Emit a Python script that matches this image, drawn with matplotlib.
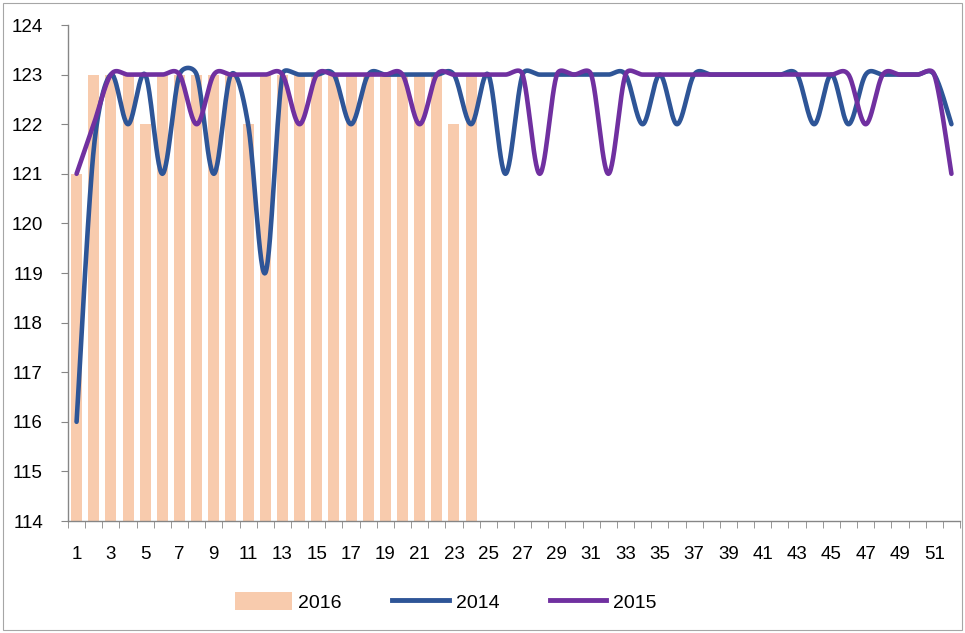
import numpy as np
import matplotlib
matplotlib.use("Agg")
import matplotlib.pyplot as plt
from matplotlib.patches import Patch, Rectangle
from matplotlib.lines import Line2D

plt.rcParams['font.family'] = ['Liberation Sans', 'DejaVu Sans']

weeks = list(range(1, 53))
s2016 = [121, 123, 123, 123, 122, 123, 123, 123, 123, 123, 122, 123,
         123, 123, 123, 123, 123, 123, 123, 123, 123, 123, 122, 123]
s2014 = [116, 121.5, 123, 122, 123, 121, 123, 123, 121, 123, 122, 119,
         123, 123, 123, 123, 122, 123, 123, 123, 123, 123, 123, 122,
         123, 121, 123, 123, 123, 123, 123, 123, 123, 122, 123, 122,
         123, 123, 123, 123, 123, 123, 123, 122, 123, 122, 123, 123,
         123, 123, 123, 122]
s2015 = [121, 122, 123, 123, 123, 123, 123, 122, 123, 123, 123, 123,
         123, 122, 123, 123, 123, 123, 123, 123, 122, 123, 123, 123,
         123, 123, 123, 121, 123, 123, 123, 121, 123, 123, 123, 123,
         123, 123, 123, 123, 123, 123, 123, 123, 123, 123, 122, 123,
         123, 123, 123, 121]
yticks = list(range(114, 125))
xlabels = [str(w) if w % 2 == 1 else "" for w in weeks]

# pixel scale (per category / per unit) used for Excel-like smoothing
SX, SY = 17.15, 49.6


def smooth(xs, ys, n=30, f=0.55):
    P = np.column_stack([np.asarray(xs, float) * SX, np.asarray(ys, float) * SY])
    m = len(P)
    T = np.zeros_like(P)
    for i in range(m):
        a = P[max(i - 1, 0)]
        b = P[min(i + 1, m - 1)]
        T[i] = (b - a) / 6.0
    t = np.linspace(0, 1, n)[:, None]
    out = []
    for i in range(m - 1):
        p0, p3 = P[i], P[i + 1]
        L = np.linalg.norm(p3 - p0)
        t0, t1 = T[i], T[i + 1]
        n0, n1 = np.linalg.norm(t0), np.linalg.norm(t1)
        if n0 > f * L:
            t0 = t0 * f * L / n0
        if n1 > f * L:
            t1 = t1 * f * L / n1
        c1 = p0 + t0
        c2 = p3 - t1
        seg = ((1 - t) ** 3) * p0 + 3 * ((1 - t) ** 2) * t * c1 + 3 * (1 - t) * t ** 2 * c2 + t ** 3 * p3
        out.append(seg)
    out = np.vstack(out)
    return out[:, 0] / SX, out[:, 1] / SY


c_bar = '#F8CBAD'
c_2014 = '#2E5597'
c_2015 = '#7030A0'
axis_c = '#868686'

fig = plt.figure(figsize=(9.65, 6.33), dpi=100)
ax = fig.add_axes([68 / 965, 1 - 521 / 633, (960 - 68) / 965, (521 - 25) / 633])

ax.bar(weeks[:len(s2016)], s2016, width=0.64, color=c_bar, zorder=1, bottom=0)
x14, y14 = smooth(weeks, s2014)
x15, y15 = smooth(weeks, s2015)
ax.plot(x14, y14, color=c_2014, lw=3.3, zorder=3, solid_capstyle='round')
ax.plot(x15, y15, color=c_2015, lw=3.3, zorder=4, solid_capstyle='round')

ax.set_ylim(114, 124)
ax.set_xlim(0.5, 52.5)
ax.set_yticks(yticks)
ax.set_yticklabels([str(v) for v in yticks])
ax.set_xticks(weeks)
ax.set_xticklabels(xlabels)
ax.set_xticks(np.arange(0.5, 53, 1.0), minor=True)
ax.tick_params(axis='x', which='major', length=0, pad=18, labelsize=13.5, colors='#000000')
ax.tick_params(axis='x', which='minor', length=5, color=axis_c, direction='out')
ax.tick_params(axis='y', length=5, color=axis_c, pad=13, labelsize=13.5)
for s in ['top', 'right']:
    ax.spines[s].set_visible(False)
for s in ['left', 'bottom']:
    ax.spines[s].set_color(axis_c)
    ax.spines[s].set_linewidth(1.0)

handles = [Patch(facecolor=c_bar, edgecolor='none', label='2016'),
           Line2D([], [], color=c_2014, lw=3.5, label='2014'),
           Line2D([], [], color=c_2015, lw=3.5, label='2015')]
fig.legend(handles=handles, loc='center', bbox_to_anchor=(0.462, 0.049), ncol=3,
           frameon=False, fontsize=14, handlelength=2.9, handleheight=1.0,
           columnspacing=2.6, handletextpad=0.35)

fig.patches.append(Rectangle((0.003, 0.004), 0.994, 0.992, transform=fig.transFigure,
                             fill=False, edgecolor='#A6A6A6', lw=0.8))

fig.savefig('out.png', dpi=100)
